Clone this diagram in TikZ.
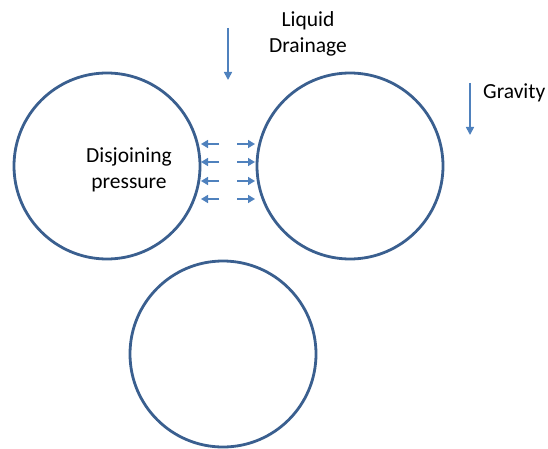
\documentclass[tikz,border=0pt]{standalone}
\usepackage{fontspec}
\setmainfont{Carlito}
\usetikzlibrary{arrows.meta}
\definecolor{ringblue}{HTML}{3A5F8F}
\definecolor{arrowblue}{HTML}{4F81BD}
\begin{document}
\begin{tikzpicture}[x=1pt,y=-1pt,
  ring/.style={circle,draw=ringblue,line width=2.8pt,minimum size=186pt,inner sep=0pt},
  flow/.style={draw=arrowblue,line width=1.6pt,-{Triangle[length=8pt,width=8pt]}},
  push/.style={draw=arrowblue,line width=1.6pt,-{Triangle[length=7pt,width=8pt]}},
  lbl/.style={font=\fontsize{21.5}{26.5}\selectfont,align=center,inner sep=0pt}]
\useasboundingbox (0,0) rectangle (548,449);
% three bubbles
\node[ring] (left) at (107,166) {};
\node[ring] (right) at (350,166) {};
\node[ring] (bottom) at (223,354) {};
% labels
\node[lbl] (dp) at (129,170) {Disjoining\\pressure};
\node[lbl] (ld) at (308,34) {Liquid\\Drainage};
\node[lbl,anchor=west] (gv) at (483,93) {Gravity};
% drainage and gravity arrows
\coordinate (ldA) at (228,28);
\coordinate (ldB) at (228,80);
\draw[flow] (ldA) -- (ldB);
\coordinate (gvA) at (470,83);
\coordinate (gvB) at (470,135);
\draw[flow] (gvA) -- (gvB);
% disjoining pressure arrows in the film between the bubbles
\foreach \y [count=\i] in {144,162,181,199}{
  \coordinate (pl\i a) at (219,\y);
  \coordinate (pl\i b) at (201,\y);
  \coordinate (pr\i a) at (237,\y);
  \coordinate (pr\i b) at (255,\y);
  \draw[push] (pl\i a) -- (pl\i b);
  \draw[push] (pr\i a) -- (pr\i b);
}
\end{tikzpicture}
\end{document}
